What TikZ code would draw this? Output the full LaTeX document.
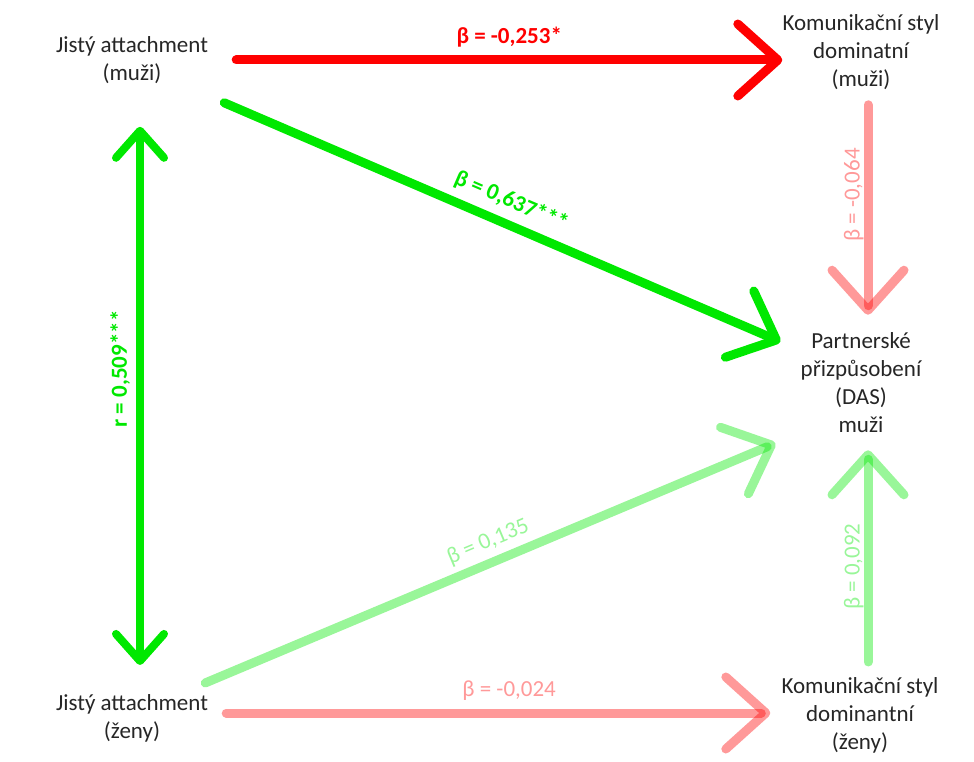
\documentclass[tikz,border=0pt]{standalone}
\usepackage{fontspec}
\setmainfont{Carlito}
\usetikzlibrary{arrows.meta,calc}
\definecolor{sigred}{RGB}{255,0,0}
\definecolor{siggreen}{RGB}{0,232,0}
\tikzset{
    var node/.style={align=center,inner sep=0pt,text=black!85,font=\fontsize{23}{28}\selectfont},
    coef/.style={inner sep=0pt,font=\fontsize{23}{28}\selectfont},
    strong coef/.style={coef,font=\fontsize{23}{28}\selectfont\bfseries,text=#1},
    weak coef/.style={coef,text=#1,text opacity=.4},
    big barb/.style={-{Straight Barb[length=40pt,width=72pt,round]}},
    small barbs/.style={{Straight Barb[length=27pt,width=48pt,round]}-{Straight Barb[length=27pt,width=48pt,round]}},
    path line/.style={line width=9pt,line cap=round},
    strong path/.style={path line,big barb,draw=#1},
    weak path/.style={path line,big barb,draw=#1,draw opacity=.4},
}

\begin{document}
\begin{tikzpicture}[x=1pt,y=-1pt]
    \useasboundingbox (0,0) rectangle (974,762);

    \node[var node] (jm) at (132,60) {Jistý attachment\\(muži)};
    \node[var node] (jz) at (132,718) {Jistý attachment\\(ženy)};
    \node[var node] (km) at (861,52) {Komunikační styl\\dominatní\\(muži)};
    \node[var node] (kz) at (860,715) {Komunikační styl\\dominantní\\(ženy)};
    \node[var node] (das) at (861,383) {Partnerské\\přizpůsobení\\(DAS)\\muži};

    \draw[strong path=sigred] ($(jm.east)+(28,0)$) -- (jm.east -| km.west)
        node[strong coef=sigred,midway,above=8pt] {β = -0,253*};
    \draw[strong path=siggreen] ($(jm.south east)+(16,19)$) -- ($(das.north west)+(-20,9)$)
        node[strong coef=siggreen,pos=.5,sloped,above=8pt] {β = 0,637***};
    \draw[weak path=siggreen] ($(jz.north east)+(-3,-11)$) -- ($(das.south west)+(-25,10)$)
        node[weak coef=siggreen,pos=.51,sloped,above=6pt] {β = 0,135};
    \draw[weak path=sigred] ($(jz.east)+(18,-5)$) -- ($(kz.west)+(-11,-2)$)
        node[weak coef=sigred,pos=.52,above=8pt] {β = -0,024};

    \draw[weak path=sigred] ($(km.south)+(7,15)$) -- ($(das.north)+(7,-18)$)
        node[weak coef=sigred,pos=.43,rotate=90,anchor=south] {β = -0,064};
    \draw[weak path=siggreen] ($(kz.north)+(8,-15)$) -- ($(das.south)+(7,17)$)
        node[weak coef=siggreen,pos=.45,rotate=90,anchor=south] {β = 0,092};

    \draw[path line,line width=8pt,draw=siggreen,small barbs] ($(jz.north)+(8,-29)$) -- ($(jm.south)+(8,43)$)
        node[strong coef=siggreen,pos=.55,rotate=90,anchor=south,yshift=6pt] {r = 0,509***};
\end{tikzpicture}
\end{document}
